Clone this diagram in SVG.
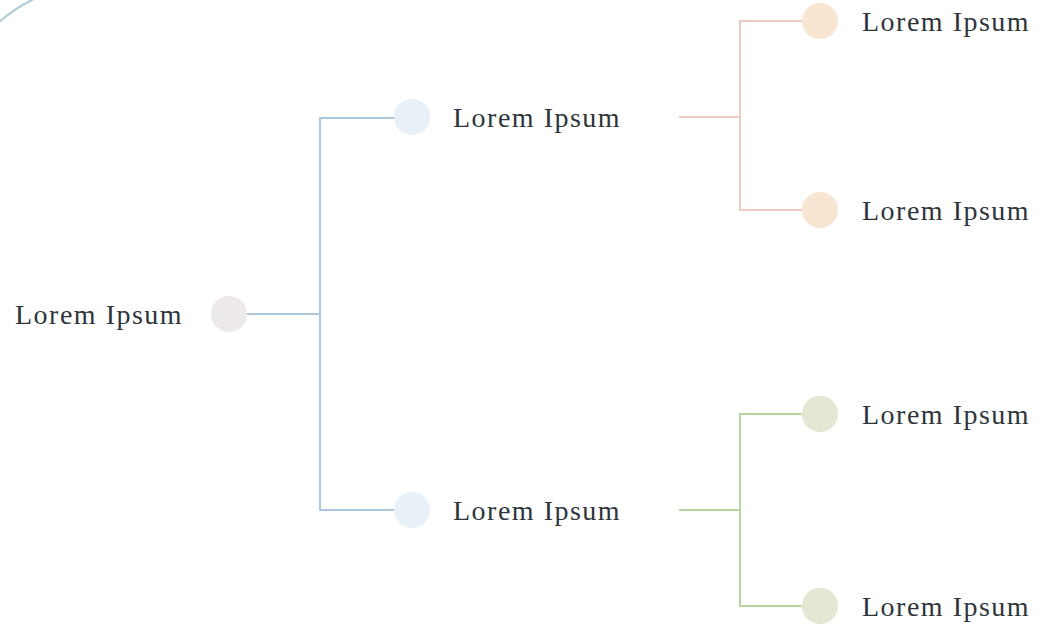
<svg xmlns="http://www.w3.org/2000/svg" width="1042" height="626" viewBox="0 0 1042 626">
<style>
.t{font-family:"Liberation Serif","DejaVu Serif",serif;font-size:28px;letter-spacing:1.5px;fill:#2E353B}
.c{fill:none;stroke-width:2}
</style>
<rect width="1042" height="626" fill="#FFFFFF"/>
<path d="M -2 23 A 150 150 0 0 1 34 -1" fill="none" stroke="#A9C9D6" stroke-width="2"/>
<g id="connectors">
<path class="c" stroke="#A9C8D8" d="M247 314 H320 M395 118 H320 V510 H395"/>
<path class="c" stroke="#EFC8C2" d="M679 117 H740 M804 21 H740 V210 H804"/>
<path class="c" stroke="#B5D6A0" d="M679 510 H740 M804 414 H740 V606 H804"/>
</g>
<g id="root"><circle cx="229" cy="314" r="18" fill="#EDE9E8"/><text class="t" x="15" y="324">Lorem Ipsum</text></g>
<g id="n1"><circle cx="412" cy="117" r="18" fill="#E8F0F8"/><text class="t" x="453" y="127">Lorem Ipsum</text></g>
<g id="n2"><circle cx="412" cy="510" r="18" fill="#E8F0F8"/><text class="t" x="453" y="520">Lorem Ipsum</text></g>
<g id="n11"><circle cx="820" cy="21" r="18" fill="#F8E5D2"/><text class="t" x="862" y="31">Lorem Ipsum</text></g>
<g id="n12"><circle cx="820" cy="210" r="18" fill="#F8E5D2"/><text class="t" x="862" y="220">Lorem Ipsum</text></g>
<g id="n21"><circle cx="820" cy="414" r="18" fill="#E3E8D2"/><text class="t" x="862" y="424">Lorem Ipsum</text></g>
<g id="n22"><circle cx="820" cy="606" r="18" fill="#E3E8D2"/><text class="t" x="862" y="616">Lorem Ipsum</text></g>
</svg>
